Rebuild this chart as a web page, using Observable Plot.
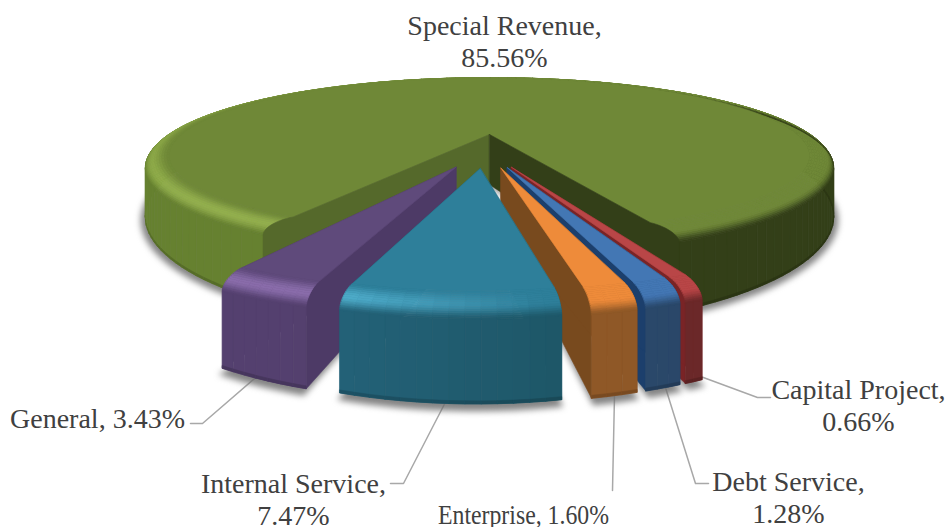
<!DOCTYPE html>
<html>
<head>
<meta charset="utf-8">
<script src="https://cdn.jsdelivr.net/npm/d3@7"></script>
<script src="https://cdn.jsdelivr.net/npm/@observablehq/plot@0.6"></script>
<style>
  html, body { margin: 0; padding: 0; background: #fff; }
  svg { display: block; }
</style>
</head>
<body>
<script>
// Fund shares, in percent of the total
const categories = ["Special Revenue", "General", "Internal Service", "Enterprise", "Debt Service", "Capital Project"];
const shares = [85.56, 3.43, 7.47, 1.60, 1.28, 0.66];

// Slice colours: flat top, rim highlight, left and right wall, cut faces
const flatColors = ["#6f8837", "#5f4a7b", "#2e7f9a", "#ee8b3a", "#4377b4", "#b94647"];
const highColors = ["#93b04c", "#8a6dab", "#4fadcb", "#ee8b3a", "#4377b4", "#b94647"];
const wallLeft = ["#668130", "#54406f", "#24637a", "#935c28", "#2c4d78", "#702a2b"];
const wallRight = ["#333f18", "#503d6a", "#1c5362", "#8e5727", "#2a4768", "#6b2829"];
const faceColors = ["#55692b", "#4d3a66", "#1f5f72", "#784a1e", "#1c3f6c", "#792426"];

// Label placement: block centre, and the elbow where each leader meets its text
const labelX = [504, 97, 293, 523, 788, 858];
const labelY = [40, 417, 498, 513, 496, 404];
const labelBreak = [true, false, true, false, true, true];
const condensedLabel = {name: "Enterprise", length: 171};
const elbowA = [null, [202, 423], [403, 483], [612, 490], [695, 483], [757, 397]];
const elbowB = [null, [190, 423], [390, 483], [612, 490], [708, 483], [770, 397]];

// Perspective of the disc
const cx = 489, cy = 134, scaleU = 329, scaleV = 76.5, persp = 0.294, heightPower = 1.6;
// Solid profile: flat top radius, rim drop, wall bottom
const flatR = 0.935, rimDrop = 8, wallH = 50;
// Pulled-out slices: radial pull, sideways nudge, vertical drop, sideways narrowing
const pull = 0.21, nudge = -0.015, pullDrop = 16, sideScale = 0.95;
const startDeg = 23; // right edge of the smallest slice, clockwise from the front
const notchTighten = 2; // degrees the large slice's rim closes in at its cut ends

const rad = Math.PI / 180;

// Angular spans, walking clockwise from the last category backwards
const spans = [];
{
  let a = startDeg;
  for (let i = shares.length - 1; i >= 1; --i) {
    const b = a - shares[i] * 3.6;
    spans[i] = [b, a];
    a = b;
  }
  spans[0] = [a - shares[0] * 3.6, a];
}

function project(i, deg, r, z) {
  const [a0, a1] = spans[i];
  const mid = (a0 + a1) / 2 * rad;
  const big = i === 0;
  const e = big ? 0 : pull, off = big ? 0 : nudge, z0 = big ? 0 : pullDrop;
  let d = deg;
  if (big && r > flatR) {
    const f = (r - flatR) / (1 - flatR) * notchTighten;
    if (deg === a0) d += f;
    if (deg === a1) d -= f;
  }
  const u = r * Math.sin(d * rad) * (big ? 1 : sideScale) + e * Math.sin(mid) + off;
  const v = r * Math.cos(d * rad) + e * Math.cos(mid);
  const w = 1 - persp * v;
  return [cx + scaleU * u / w, cy + (scaleV * v + z0) / w + z / Math.pow(w, heightPower)];
}

const rows = [];
let polyId = 0;
function addPoly(points, shade) {
  const id = polyId++;
  for (const [x, y] of points) rows.push({id, x, y, shade});
}

const clamp = (t) => Math.max(0, Math.min(1, t));
const smooth = (t) => { t = clamp(t); return t * t * (3 - 2 * t); };
const mix = (a, b, t) => d3.interpolateRgb(a, b)(clamp(t));

function wallColor(i, deg) {
  const s = Math.sin(deg * rad);
  const t = i === 0 ? smooth((s + 0.25) / 0.5) : smooth(s + 0.5);
  return mix(wallLeft[i], wallRight[i], t);
}

function rimColor(i, deg, t) {
  const d = ((deg + 180) % 360 + 360) % 360 - 180;
  let s = clamp((8 - d) / 25);
  if (i === 0) s *= clamp((d + 180) / 130);
  const peak = mix(flatColors[i], highColors[i], s);
  return t < 0.5 ? mix(flatColors[i], peak, smooth(t / 0.5)) : mix(peak, wallColor(i, deg), smooth((t - 0.5) / 0.5));
}

// Rounded rim profile, from the flat top's edge to the wall's top
const rimSteps = 14;
const rimProfile = d3.range(rimSteps + 1).map((k) => {
  const t = k / rimSteps * Math.PI / 2;
  return [flatR + (1 - flatR) * Math.sin(t), rimDrop * (1 - Math.cos(t))];
});

function arcDegrees(i) {
  const [a0, a1] = spans[i];
  const n = Math.max(2, Math.ceil((a1 - a0) / 2));
  return d3.range(n + 1).map((k) => k === n ? a1 : a0 + (a1 - a0) * k / n);
}

function cutFace(i, deg) {
  const pts = [project(i, deg, 0, 0)];
  for (const [r, z] of rimProfile) pts.push(project(i, deg, r, z));
  pts.push(project(i, deg, 1, wallH));
  pts.push(project(i, deg, 0, wallH));
  return pts;
}

function footprint(i, grow, extra) {
  const degs = arcDegrees(i);
  return [project(i, degs[0], 0, wallH + extra),
    ...degs.map((d) => project(i, d, grow, wallH + extra))];
}

function drawSlice(i) {
  const degs = arcDegrees(i);
  const [a0, a1] = spans[i];
  if (i !== 0) {
    addPoly(cutFace(i, a0), faceColors[i]);
    addPoly(cutFace(i, a1), faceColors[i]);
  }
  // Outer wall, with a darker foot
  for (let k = 0; k + 1 < degs.length; ++k) {
    const [d0, d1] = [degs[k], degs[k + 1]];
    const c = wallColor(i, (d0 + d1) / 2);
    addPoly([project(i, d0, 1, rimDrop), project(i, d1, 1, rimDrop), project(i, d1, 1, wallH), project(i, d0, 1, wallH)], c);
    addPoly([project(i, d0, 1, wallH - 1.5), project(i, d1, 1, wallH - 1.5), project(i, d1, 1, wallH), project(i, d0, 1, wallH)], d3.color(c).darker(0.5).formatHex());
  }
  // Rounded rim, strip by strip
  for (let k = 0; k + 1 < degs.length; ++k) {
    const [d0, d1] = [degs[k], degs[k + 1]];
    for (let j = rimSteps - 1; j >= 0; --j) {
      const [r0, z0] = rimProfile[j], [r1, z1] = rimProfile[j + 1];
      addPoly([project(i, d0, r0, z0), project(i, d1, r0, z0), project(i, d1, r1, z1), project(i, d0, r1, z1)],
        rimColor(i, (d0 + d1) / 2, (j + 0.5) / rimSteps));
    }
  }
  // Flat top
  addPoly([project(i, a0, 0, 0), ...degs.map((d) => project(i, d, flatR, 0))], flatColors[i]);
  if (i === 0) {
    // The notch's two cut walls show in front of the remaining disc
    addPoly(cutFace(i, a1), faceColors[0]);
    addPoly(cutFace(i, a0), wallRight[0]);
  }
}

// Paint order: large slice first, then purple, then right to left up to teal
const paintOrder = [0, 1, 5, 4, 3, 2];
paintOrder.forEach(drawSlice);

// Soft ground shadows under every slice
const shadowRows = [];
paintOrder.forEach((i) => {
  footprint(i, 1.012, 2).forEach(([x, y]) => shadowRows.push({id: i, x, y}));
});

// Leader lines start under each slice's rim and run to their label
const leaderRows = [];
categories.forEach((name, i) => {
  if (!elbowA[i]) return;
  const [a0, a1] = spans[i];
  const [sx, sy] = project(i, (a0 + a1) / 2, 1, wallH - 4);
  for (const [x, y] of [[sx, sy], elbowA[i], elbowB[i]]) leaderRows.push({name, x, y});
});

const labelRows = categories.map((name, i) => ({
  text: `${name},${labelBreak[i] ? "\n" : " "}${shares[i].toFixed(2)}%`,
  x: labelX[i],
  y: labelY[i]
}));

const chart = Plot.plot({
  width: 950,
  height: 527,
  margin: 0,
  axis: null,
  x: {domain: [0, 950], range: [0, 950]},
  y: {domain: [0, 527], range: [0, 527]},
  color: {type: "identity"},
  marks: [
    Plot.line(leaderRows, {x: "x", y: "y", z: "name", stroke: "#a8a8a8", strokeWidth: 1.5, curve: "linear"}),
    Plot.line(shadowRows, {x: "x", y: "y", z: "id", fill: "#6e6e6e", stroke: "none", fillOpacity: 0.85, curve: "linear-closed", imageFilter: "blur(3px)"}),
    Plot.line(rows, {x: "x", y: "y", z: "id", fill: "shade", stroke: "shade", strokeWidth: 0.6, curve: "linear-closed"}),
    Plot.text(labelRows, {
      x: "x", y: "y", text: "text",
      fontFamily: "Liberation Serif", fontSize: 28, lineHeight: 1.14,
      fill: "#404040", textAnchor: "middle", lineAnchor: "middle"
    })
  ]
});

// The one-line label under the teal slice is set tighter to sit between its neighbours
d3.select(chart).selectAll("text")
  .filter(function () { return this.textContent.startsWith(condensedLabel.name); })
  .attr("textLength", condensedLabel.length)
  .attr("lengthAdjust", "spacingAndGlyphs");

document.body.append(chart);
</script>
</body>
</html>
